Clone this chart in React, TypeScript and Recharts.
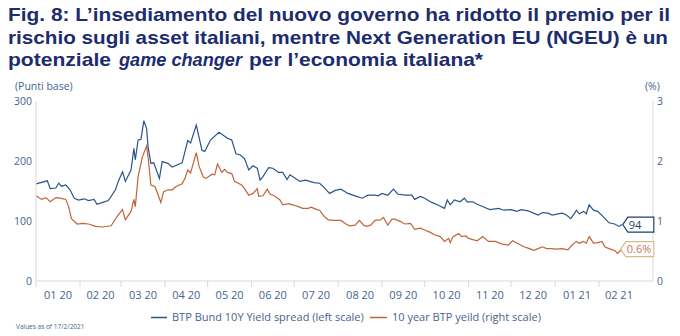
import { LineChart, Line, XAxis, YAxis, ReferenceDot } from "recharts";

document.body.style.margin = "0";

const spreadDates = [
  "2020-01-01", "2020-01-09", "2020-01-11", "2020-01-15", "2020-01-17", "2020-01-19", "2020-01-22", "2020-01-25",
  "2020-01-28", "2020-01-31", "2020-02-04", "2020-02-07", "2020-02-11", "2020-02-13", "2020-02-17", "2020-02-21",
  "2020-02-26", "2020-02-28", "2020-03-02", "2020-03-04", "2020-03-08", "2020-03-10", "2020-03-11", "2020-03-13",
  "2020-03-15", "2020-03-17", "2020-03-19", "2020-03-20", "2020-03-22", "2020-03-24", "2020-03-28", "2020-03-30",
  "2020-04-03", "2020-04-06", "2020-04-11", "2020-04-13", "2020-04-17", "2020-04-19", "2020-04-23", "2020-04-27",
  "2020-04-29", "2020-05-03", "2020-05-09", "2020-05-15", "2020-05-18", "2020-05-21", "2020-05-24", "2020-05-27",
  "2020-05-30", "2020-06-02", "2020-06-05", "2020-06-07", "2020-06-09", "2020-06-13", "2020-06-16", "2020-06-20",
  "2020-06-23", "2020-06-26", "2020-06-28", "2020-07-02", "2020-07-05", "2020-07-09", "2020-07-12", "2020-07-15",
  "2020-07-19", "2020-07-22", "2020-07-26", "2020-07-30", "2020-08-03", "2020-08-08", "2020-08-14", "2020-08-18",
  "2020-08-22", "2020-08-27", "2020-08-29", "2020-09-01", "2020-09-05", "2020-09-09", "2020-09-12", "2020-09-17",
  "2020-09-22", "2020-09-24", "2020-09-28", "2020-10-01", "2020-10-06", "2020-10-10", "2020-10-15", "2020-10-17",
  "2020-10-19", "2020-10-22", "2020-10-26", "2020-10-29", "2020-10-31", "2020-11-04", "2020-11-07", "2020-11-12",
  "2020-11-16", "2020-11-22", "2020-11-26", "2020-12-01", "2020-12-05", "2020-12-08", "2020-12-13", "2020-12-16",
  "2020-12-20", "2020-12-23", "2020-12-27", "2020-12-30", "2021-01-03", "2021-01-06", "2021-01-09", "2021-01-12",
  "2021-01-15", "2021-01-16", "2021-01-18", "2021-01-21", "2021-01-23", "2021-01-25", "2021-01-28", "2021-01-31",
  "2021-02-04", "2021-02-06", "2021-02-08", "2021-02-12", "2021-02-15", "2021-02-17",
];
const spreadValues = [
  162, 167, 154, 155, 163, 158, 160, 152,
  138, 135, 137, 134, 136, 128, 131, 134,
  152, 166, 182, 166, 185, 221, 202, 235,
  236, 267, 254, 224, 196, 197, 171, 199,
  196, 190, 195, 197, 234, 230, 260, 218,
  216, 235, 248, 238, 235, 212, 210, 204,
  185, 192, 188, 168, 174, 189, 188, 181,
  181, 169, 177, 171, 166, 168, 166, 164,
  163, 156, 146, 151, 153, 146, 141, 138,
  143, 143, 142, 146, 143, 153, 145, 143,
  143, 136, 141, 138, 131, 127, 121, 135,
  127, 135, 132, 138, 132, 132, 128, 123,
  119, 121, 118, 119, 116, 119, 117, 114,
  110, 114, 113, 110, 112, 113, 110, 104,
  114, 118, 112, 116, 112, 127, 118, 116,
  107, 102, 97, 95, 91, 94,
];

const yieldDates = [
  "2020-01-01", "2020-01-05", "2020-01-08", "2020-01-11", "2020-01-15", "2020-01-18", "2020-01-22", "2020-01-24",
  "2020-01-26", "2020-01-30", "2020-02-03", "2020-02-07", "2020-02-12", "2020-02-17", "2020-02-23", "2020-02-27",
  "2020-03-02", "2020-03-04", "2020-03-08", "2020-03-10", "2020-03-11", "2020-03-13", "2020-03-16", "2020-03-19",
  "2020-03-20", "2020-03-22", "2020-03-25", "2020-03-29", "2020-03-31", "2020-04-03", "2020-04-06", "2020-04-09",
  "2020-04-13", "2020-04-15", "2020-04-17", "2020-04-19", "2020-04-23", "2020-04-25", "2020-04-28", "2020-04-30",
  "2020-05-04", "2020-05-06", "2020-05-08", "2020-05-11", "2020-05-13", "2020-05-15", "2020-05-18", "2020-05-20",
  "2020-05-25", "2020-05-27", "2020-05-30", "2020-06-02", "2020-06-05", "2020-06-06", "2020-06-09", "2020-06-12",
  "2020-06-14", "2020-06-17", "2020-06-21", "2020-06-23", "2020-06-27", "2020-06-30", "2020-07-04", "2020-07-07",
  "2020-07-11", "2020-07-13", "2020-07-17", "2020-07-19", "2020-07-22", "2020-07-25", "2020-07-29", "2020-08-01",
  "2020-08-03", "2020-08-06", "2020-08-09", "2020-08-13", "2020-08-16", "2020-08-19", "2020-08-21", "2020-08-24",
  "2020-08-27", "2020-08-31", "2020-09-02", "2020-09-05", "2020-09-08", "2020-09-10", "2020-09-14", "2020-09-17",
  "2020-09-21", "2020-09-24", "2020-09-28", "2020-10-01", "2020-10-05", "2020-10-08", "2020-10-12", "2020-10-15",
  "2020-10-18", "2020-10-19", "2020-10-21", "2020-10-25", "2020-10-27", "2020-10-30", "2020-11-01", "2020-11-04",
  "2020-11-07", "2020-11-11", "2020-11-15", "2020-11-20", "2020-11-24", "2020-11-29", "2020-12-02", "2020-12-06",
  "2020-12-10", "2020-12-14", "2020-12-17", "2020-12-20", "2020-12-23", "2020-12-26", "2020-12-29", "2021-01-02",
  "2021-01-06", "2021-01-10", "2021-01-13", "2021-01-16", "2021-01-18", "2021-01-21", "2021-01-23", "2021-01-25",
  "2021-01-28", "2021-01-31", "2021-02-03", "2021-02-05", "2021-02-08", "2021-02-12", "2021-02-14", "2021-02-17",
];
const yieldValues = [
  1.42, 1.36, 1.39, 1.32, 1.39, 1.38, 1.36, 1.24,
  1.04, 0.95, 0.96, 0.95, 0.91, 0.9, 0.92, 1.07,
  1.19, 1.02, 1.16, 1.36, 1.24, 1.74, 2.07, 2.25,
  2.07, 1.6, 1.57, 1.31, 1.49, 1.52, 1.52, 1.58,
  1.62, 1.71, 1.85, 1.8, 2.14, 1.91, 1.73, 1.71,
  1.78, 1.77, 1.95, 1.81, 1.86, 1.81, 1.79, 1.66,
  1.6, 1.54, 1.43, 1.46, 1.54, 1.41, 1.42, 1.53,
  1.45, 1.42, 1.35, 1.27, 1.29, 1.27, 1.24, 1.21,
  1.21, 1.23, 1.19, 1.18, 1.08, 1.02, 1.01, 1.01,
  1.01, 0.96, 0.92, 0.93, 1.01, 0.93, 0.91, 0.93,
  1.01, 1.02, 1.06, 0.93, 1.03, 1.03, 0.99, 0.95,
  0.96, 0.86, 0.88, 0.85, 0.81, 0.77, 0.74, 0.66,
  0.71, 0.64, 0.74, 0.79, 0.74, 0.75, 0.71, 0.69,
  0.67, 0.74, 0.66, 0.66, 0.62, 0.6, 0.67, 0.62,
  0.57, 0.54, 0.51, 0.54, 0.57, 0.54, 0.54, 0.53,
  0.54, 0.52, 0.6, 0.66, 0.63, 0.66, 0.63, 0.74,
  0.63, 0.64, 0.66, 0.57, 0.54, 0.51, 0.46, 0.53,
];

const monthStarts = [
  "2020-01-01", "2020-02-01", "2020-03-01", "2020-04-01", "2020-05-01", "2020-06-01", "2020-07-01",
  "2020-08-01", "2020-09-01", "2020-10-01", "2020-11-01", "2020-12-01", "2021-01-01", "2021-02-01",
];
const monthLabels = [
  "01 20", "02 20", "03 20", "04 20", "05 20", "06 20", "07 20",
  "08 20", "09 20", "10 20", "11 20", "12 20", "01 21", "02 21",
];
const lastMonthEnd = "2021-03-01";
const axisEnd = 435;
const leftTicks = [0, 100, 200, 300];
const rightTicks = [0, 1, 2, 3];
const endLabels = ["94", "0.6%"];

const colors = {
  title: "#1d2c6e",
  text: "#46648e",
  spread: "#2b558a",
  yield: "#c0643b",
  yieldBox: "#d8bb8c",
  axis: "#d9d9d9",
};
const font = "'Open Sans', sans-serif";
const titleFont = "'Liberation Sans', Arial, sans-serif";

const toDay = (d: string) =>
  (Date.parse(d + "T00:00:00Z") - Date.parse("2020-01-01T00:00:00Z")) / 86400000;

const spreadData = spreadDates.map((d, i) => ({ day: toDay(d), v: spreadValues[i] }));
const yieldData = yieldDates.map((d, i) => ({ day: toDay(d), v: yieldValues[i] }));

const startDays = monthStarts.map(toDay);
const labelDays = startDays.map((s, i) => (s + (startDays[i + 1] ?? toDay(lastMonthEnd))) / 2);
const xTicks = [...startDays, ...labelDays].sort((a, b) => a - b);

function MonthTick(props: any) {
  const { x, y, payload } = props;
  const idx = labelDays.indexOf(payload.value);
  if (idx < 0) {
    return <line x1={x} x2={x} y1={y} y2={y + 6} stroke={colors.axis} strokeWidth={1} />;
  }
  return (
    <text x={x} y={y + 18} textAnchor="middle" fontSize={11} fontFamily={font} fill={colors.text}>
      {monthLabels[idx]}
    </text>
  );
}

function Callout(props: any) {
  const { cx, cy, text, stroke, color, shift, width } = props;
  const h = 15;
  const tip = 5;
  const l = cx + shift;
  const d = `M${l},${cy} L${l + tip},${cy - h / 2} L${l + width},${cy - h / 2} L${l + width},${cy + h / 2} L${l + tip},${cy + h / 2} Z`;
  return (
    <g>
      <path d={d} fill="#fff" stroke={stroke} strokeWidth={1.2} />
      <text x={l + tip + 1} y={cy + 4} fontSize={11} fontFamily={font} fill={color}>
        {text}
      </text>
    </g>
  );
}

export default function App() {
  const lastSpread = spreadData[spreadData.length - 1];
  const lastYield = yieldData[yieldData.length - 1];
  return (
    <div style={{ position: "relative", width: 680, height: 336, background: "#fff", fontFamily: font }}>
      <LineChart width={680} height={336} margin={{ top: 101, right: 3, bottom: 25, left: 6 }}>
        <XAxis
          dataKey="day"
          type="number"
          domain={[0, axisEnd]}
          ticks={xTicks}
          interval={0}
          height={30}
          tickLine={false}
          tickSize={0}
          tickMargin={0}
          axisLine={{ stroke: colors.axis }}
          tick={<MonthTick />}
        />
        <YAxis
          yAxisId="left"
          orientation="left"
          domain={[0, 300]}
          ticks={leftTicks}
          width={30}
          tickLine={false}
          tickSize={2}
          tickMargin={2}
          axisLine={{ stroke: colors.axis }}
          tick={{ fill: colors.text, fontSize: 10.5, fontFamily: font }}
        />
        <YAxis
          yAxisId="right"
          orientation="right"
          domain={[0, 3]}
          ticks={rightTicks}
          width={24}
          tickLine={false}
          tickSize={2}
          tickMargin={2}
          axisLine={{ stroke: colors.axis }}
          tick={{ fill: colors.text, fontSize: 10.5, fontFamily: font, textAnchor: "start" }}
        />
        <Line
          yAxisId="right"
          data={yieldData}
          dataKey="v"
          type="linear"
          stroke={colors.yield}
          strokeWidth={1.2}
          dot={false}
          isAnimationActive={false}
        />
        <Line
          yAxisId="left"
          data={spreadData}
          dataKey="v"
          type="linear"
          stroke={colors.spread}
          strokeWidth={1.2}
          dot={false}
          isAnimationActive={false}
        />
        <ReferenceDot
          yAxisId="left"
          x={lastSpread.day}
          y={lastSpread.v}
          ifOverflow="visible"
          shape={(p: any) => (
            <Callout {...p} text={endLabels[0]} stroke="#1f3f6e" color="#1f3f6e" shift={1} width={31} />
          )}
        />
        <ReferenceDot
          yAxisId="right"
          x={lastYield.day}
          y={lastYield.v}
          ifOverflow="visible"
          shape={(p: any) => (
            <Callout {...p} text={endLabels[1]} stroke={colors.yieldBox} color="#c07a55" shift={-1} width={33} />
          )}
        />
      </LineChart>

      <svg width={680} height={336} style={{ position: "absolute", left: 0, top: 0, pointerEvents: "none" }}>
        <g fontFamily={titleFont} fontWeight={700} fontSize={19} fill={colors.title}>
          <text x={8} y={21} textLength={662} lengthAdjust="spacingAndGlyphs">
            Fig. 8: L’insediamento del nuovo governo ha ridotto il premio per il
          </text>
          <text x={8} y={44} textLength={660} lengthAdjust="spacingAndGlyphs">
            rischio sugli asset italiani, mentre Next Generation EU (NGEU) è un
          </text>
          <text x={8} y={66} textLength={103} lengthAdjust="spacingAndGlyphs">
            potenziale
          </text>
          <text x={119} y={66} textLength={123} lengthAdjust="spacingAndGlyphs" fontStyle="italic">
            game changer
          </text>
          <text x={249} y={66} textLength={234} lengthAdjust="spacingAndGlyphs">
            per l’economia italiana*
          </text>
        </g>
        <g fontFamily={font} fontSize={10.5} fill={colors.text}>
          <text x={15} y={90}>(Punti base)</text>
          <text x={645} y={90}>(%)</text>
          <line x1={151} x2={167} y1={317.5} y2={317.5} stroke={colors.spread} strokeWidth={1.5} />
          <text x={172} y={321} fontSize={11}>BTP Bund 10Y Yield spread (left scale)</text>
          <line x1={370} x2={387} y1={317.5} y2={317.5} stroke={colors.yield} strokeWidth={1.5} />
          <text x={392} y={321} fontSize={11}>10 year BTP yeild (right scale)</text>
          <text x={16} y={329} fontSize={6.5}>Values as of 17/2/2021</text>
        </g>
      </svg>
    </div>
  );
}
